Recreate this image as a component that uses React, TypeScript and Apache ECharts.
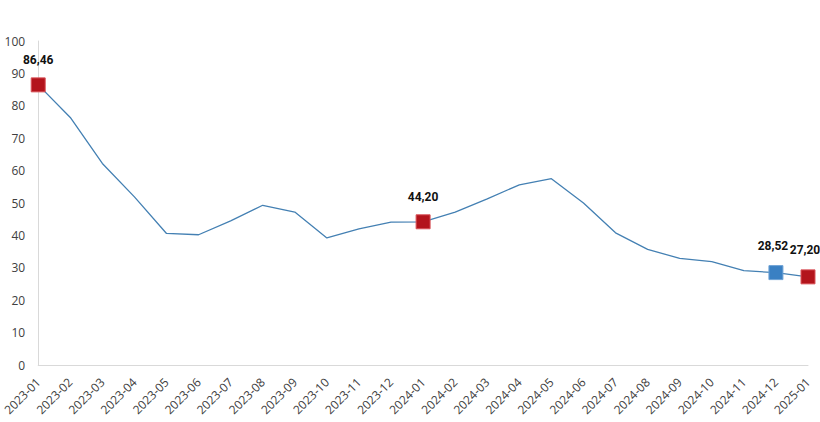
import React, { useEffect, useRef } from "react";
import * as echarts from "echarts";

const categories = [
  "2023-01", "2023-02", "2023-03", "2023-04", "2023-05", "2023-06", "2023-07",
  "2023-08", "2023-09", "2023-10", "2023-11", "2023-12", "2024-01", "2024-02",
  "2024-03", "2024-04", "2024-05", "2024-06", "2024-07", "2024-08", "2024-09",
  "2024-10", "2024-11", "2024-12", "2025-01",
];

const values = [
  86.46, 76.4, 62.2, 51.9, 40.6, 40.2, 44.5, 49.3, 47.2, 39.2, 42.0, 44.1,
  44.2, 47.2, 51.3, 55.6, 57.5, 50.0, 40.8, 35.7, 32.9, 31.9, 29.1, 28.52, 27.2,
];

const redMarkers = ["2023-01", "2024-01", "2025-01"];
const blueMarkers = ["2024-12"];

const RED = "#B3141C";
const BLUE = "#3A80C3";
const LINE = "#4480B3";

export default function App() {
  const ref = useRef<HTMLDivElement>(null);

  useEffect(() => {
    if (!ref.current) return;
    const chart = echarts.init(ref.current, undefined, { renderer: "svg" });

    const data = values.map((v, i) => {
      const cat = categories[i];
      const isRed = redMarkers.includes(cat);
      const isBlue = blueMarkers.includes(cat);
      if (!isRed && !isBlue) {
        return { value: v, symbol: "none" };
      }
      const isLast = i === values.length - 1;
      const isPrevLast = i === values.length - 2;
      return {
        value: v,
        symbol: "rect",
        symbolSize: 14,
        itemStyle: {
          color: isRed ? RED : BLUE,
          borderColor: isRed ? "#D9545A" : "#6FA3D6",
          borderWidth: 1,
        },
        label: {
          show: true,
          position: "top",
          distance: isLast || isPrevLast ? 13 : 11,
          offset: isLast ? [-3, 0] : isPrevLast ? [-3, 0] : [0, 0],
          formatter: () => v.toFixed(2).replace(".", ","),
          fontFamily: "Roboto, Arial, sans-serif",
          fontWeight: "bold",
          fontSize: 12,
          color: "#111",
        },
      };
    });

    chart.setOption({
      animation: false,
      backgroundColor: "#fff",
      grid: { left: 35, right: 12, top: 41, bottom: 57, containLabel: false },
      xAxis: {
        type: "category",
        data: categories,
        boundaryGap: false,
        axisLine: { show: true, lineStyle: { color: "#D9D9D9", width: 1 } },
        axisTick: { show: false },
        axisLabel: {
          interval: 0,
          rotate: 45,
          fontSize: 12,
          fontFamily: "Open Sans, sans-serif",
          color: "#404040",
          margin: 15,
        },
      },
      yAxis: {
        type: "value",
        min: 0,
        max: 100,
        interval: 10,
        axisLine: { show: true, lineStyle: { color: "#D9D9D9", width: 1 } },
        axisTick: { show: false },
        splitLine: { show: false },
        axisLabel: {
          fontSize: 12,
          fontFamily: "Open Sans, sans-serif",
          color: "#404040",
          margin: 13,
        },
      },
      series: [
        {
          type: "line",
          data,
          showAllSymbol: true,
          lineStyle: { color: LINE, width: 1.3 },
          itemStyle: { color: LINE },
          z: 2,
        },
      ],
    });

    return () => chart.dispose();
  }, []);

  return <div ref={ref} style={{ width: 820, height: 422, position: "absolute", left: 0, top: 0 }} />;
}
